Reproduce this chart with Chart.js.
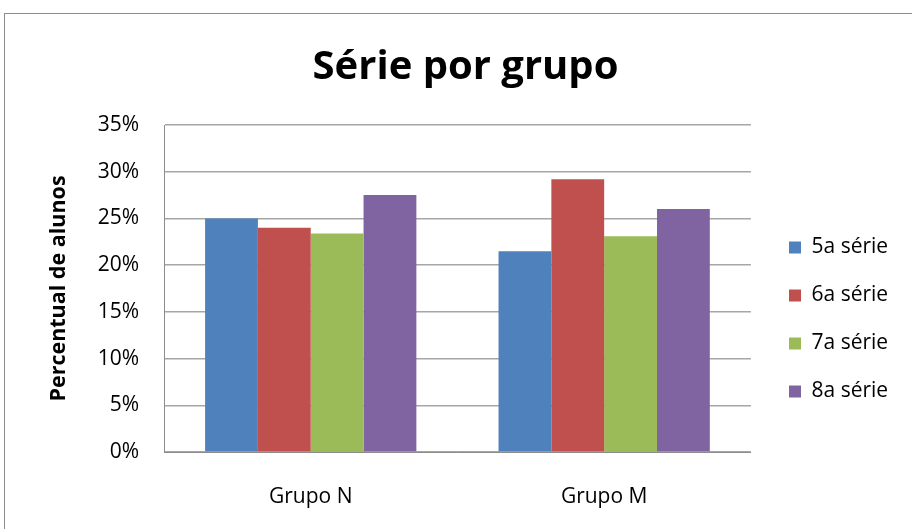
<!DOCTYPE html>
<html>
<head>
<meta charset="utf-8">
<script src="https://cdn.jsdelivr.net/npm/chart.js@4.4.1/dist/chart.umd.min.js"></script>
<style>
  html, body { margin: 0; padding: 0; background: #fff; }
  #wrap { width: 912px; height: 529px; position: relative; }
</style>
</head>
<body>
<div id="wrap"><canvas id="chart" width="912" height="529"></canvas></div>
<script>
const groups = ['Grupo N', 'Grupo M'];
const seriesNames = ['5a série', '6a série', '7a série', '8a série'];
const serie5 = [25.0, 21.5];
const serie6 = [24.0, 29.2];
const serie7 = [23.4, 23.1];
const serie8 = [27.5, 26.0];
const colors = ['#4F81BD', '#C0504D', '#9BBB59', '#8064A2'];

const fontFamily = '"Open Sans", sans-serif';

// thin gray frame like the Excel chart border
const framePlugin = {
  id: 'frame',
  beforeDraw(chart) {
    const ctx = chart.ctx;
    ctx.save();
    ctx.fillStyle = '#fff';
    ctx.fillRect(0, 0, chart.width, chart.height);
    ctx.strokeStyle = '#8c8c8c';
    ctx.lineWidth = 1;
    ctx.strokeRect(4.5, 13.5, chart.width + 10, chart.height + 10);
    ctx.restore();
  }
};

// move legend and title where Excel put them
const blockShift = {
  id: 'blockShift',
  afterLayout(chart) {
    const lg = chart.legend;
    const dx = 762 - lg.left;
    lg.left += dx;
    lg.right += dx;
    lg.top += 31;
    lg.bottom += 31;
    const tb = chart.titleBlock;
    tb.left += 12;
    tb.right += 12;
  }
};

const chart = new Chart(document.getElementById('chart'), {
  type: 'bar',
  data: {
    labels: groups,
    datasets: [serie5, serie6, serie7, serie8].map((d, i) => ({
      label: seriesNames[i],
      data: d,
      backgroundColor: colors[i],
      borderWidth: 0,
      categoryPercentage: 0.72,
      barPercentage: 1.0
    }))
  },
  options: {
    responsive: false,
    animation: false,
    layout: { padding: { left: 20, right: 25, top: 0, bottom: 0 } },
    plugins: {
      title: {
        display: true,
        text: 'Série por grupo',
        color: '#000',
        font: { family: fontFamily, size: 40, weight: 'bold' },
        padding: { top: 44, bottom: 33 }
      },
      legend: {
        position: 'right',
        fullSize: false,
        labels: {
          color: '#000',
          font: { family: fontFamily, size: 21 },
          boxWidth: 12,
          boxHeight: 12,
          padding: 27
        }
      },
      tooltip: { enabled: false }
    },
    scales: {
      x: {
        grid: { display: false, drawTicks: false },
        border: { display: true, color: '#8c8c8c', width: 1 },
        ticks: { color: '#000', font: { family: fontFamily, size: 21 }, padding: 32 },
        afterFit(scale) { scale.height = 77; }
      },
      y: {
        min: 0,
        max: 35,
        grid: { color: '#a6a6a6', lineWidth: 1.5, drawTicks: false },
        border: { display: true, color: '#8c8c8c', width: 1 },
        ticks: {
          stepSize: 5,
          color: '#000',
          padding: 25,
          font: { family: fontFamily, size: 21 },
          callback: (v) => v + '%'
        },
        title: {
          display: true,
          text: 'Percentual de alunos',
          color: '#000',
          font: { family: fontFamily, size: 21.5, weight: 'bold' },
          padding: { top: 26 }
        },
        afterFit(scale) { scale.width = 144; }
      }
    }
  },
  plugins: [framePlugin, blockShift]
});
</script>
</body>
</html>
